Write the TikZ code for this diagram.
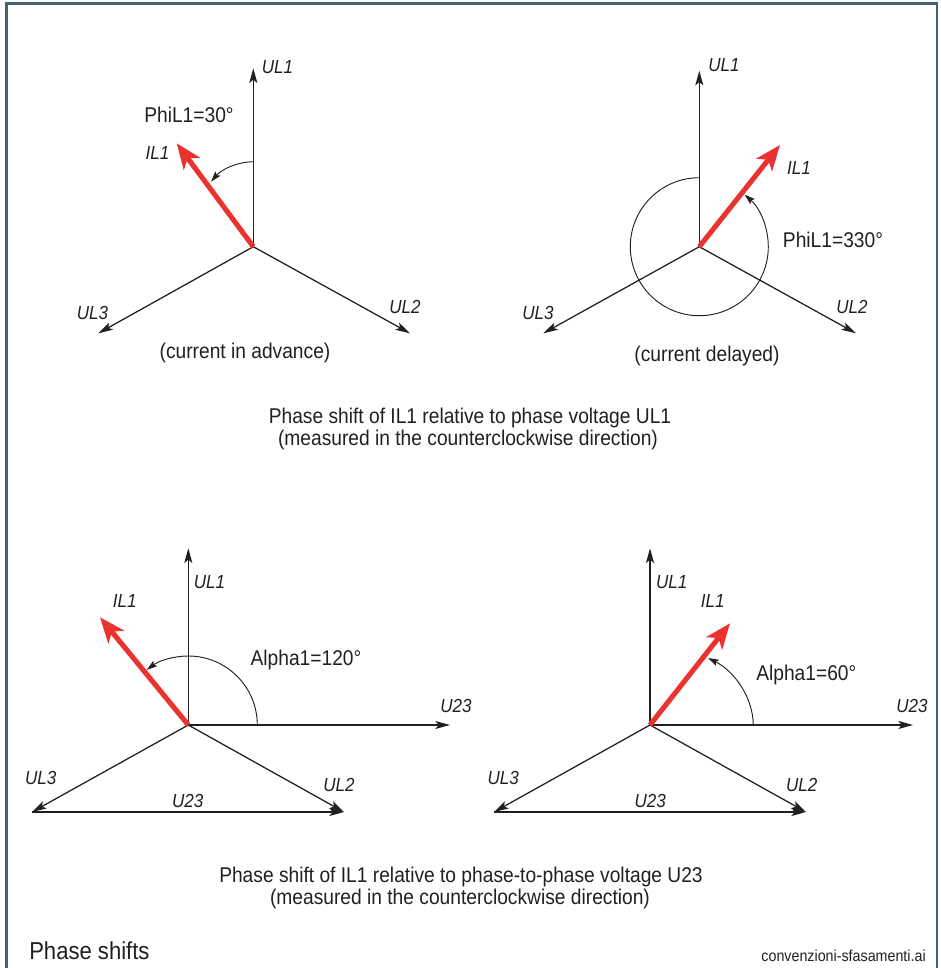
\documentclass[tikz,border=0pt]{standalone}
\usepackage{fontspec}
\setmainfont{Liberation Sans}[FakeStretch=0.9]
\usetikzlibrary{arrows.meta,calc}
\definecolor{framec}{RGB}{72,96,112}
\definecolor{vred}{RGB}{234,50,47}
\definecolor{ink}{RGB}{35,31,32}
\begin{document}
\begin{tikzpicture}[x=0.75pt,y=-0.75pt,
 vec/.style={draw=ink, line width=0.95pt, -{Stealth[length=11pt,width=6pt,inset=2.5pt]}},
 redvec/.style={draw=vred, line width=3.8pt, -{Stealth[length=19pt,width=15pt,inset=5pt]}},
 anglearc/.style={draw=ink, line width=0.7pt, -{Stealth[length=8pt,width=5pt,inset=1.5pt]}},
 lab/.style={font=\fontsize{14.2}{16}\selectfont\itshape, text=ink, inner sep=0pt},
 ann/.style={font=\fontsize{16}{19}\selectfont, text=ink, inner sep=0pt},
]
\useasboundingbox (0,0) rectangle (941,968);
% frame
\draw[framec, line width=1.9pt] (6.5,968) -- (6.5,3.5) -- (937,3.5) -- (937,968);

% ---------- top-left ----------
\coordinate (O1) at (253.3,246.7);
\coordinate (A1) at (253.3,68.3);
\coordinate (B1) at (410,333.3);
\coordinate (C1) at (98.3,333.3);
\coordinate (I1) at (176.7,143.3);
\coordinate (P1s) at (253.3,161.7);
\coordinate (P1e) at (211,181.7);
\draw[vec] (O1) -- (A1);
\draw[vec] (O1) -- (B1);
\draw[vec] (O1) -- (C1);
\draw[anglearc] (P1s) .. controls (236,162) and (221,170) .. (P1e);
\draw[redvec] (O1) -- (I1);
\node[lab] (lA1) at (277.5,66.7) {UL1};
\node[lab] (lB1) at (405,306.7) {UL2};
\node[lab] (lC1) at (92.5,312.5) {UL3};
\node[lab] (lI1) at (157.5,152.5) {IL1};
\node[ann] (phi1) at (189,115) {PhiL1=30°};
\node[ann] (cap1) at (245,353) {(current in advance)};

% ---------- top-right ----------
\coordinate (O2) at (699.3,246.7);
\coordinate (A2) at (699.3,70.7);
\coordinate (B2) at (856,333.3);
\coordinate (C2) at (543.3,333.3);
\coordinate (I2) at (780,145);
\draw[vec] (O2) -- (A2);
\draw[vec] (O2) -- (B2);
\draw[vec] (O2) -- (C2);
\draw[anglearc] ($(O2)+(-90:69)$) arc[start angle=-90, end angle=-409, radius=69];
\draw[redvec] (O2) -- (I2);
\node[lab] (lA2) at (724,65) {UL1};
\node[lab] (lB2) at (852,307) {UL2};
\node[lab] (lC2) at (538,313) {UL3};
\node[lab] (lI2) at (799,168) {IL1};
\node[ann] (phi2) at (833,240) {PhiL1=330°};
\node[ann] (cap2) at (707,356) {(current delayed)};

\node[ann, anchor=base] (t1) at (470,423.5) {Phase shift of IL1 relative to phase voltage UL1};
\node[ann, anchor=base] (t2) at (468,445.5) {(measured in the counterclockwise direction)};

% ---------- bottom-left ----------
\coordinate (O3) at (188.3,725);
\coordinate (A3) at (188.3,548.3);
\coordinate (D3) at (450,725);
\coordinate (B3) at (344,812);
\coordinate (C3) at (32,812);
\coordinate (I3) at (100,617.3);
\draw[vec] (O3) -- (A3);
\draw[vec] (O3) -- (D3);
\draw[vec] (O3) -- (B3);
\draw[vec] (O3) -- (C3);
\draw[vec] (C3) -- (B3);
\draw[anglearc] ($(O3)+(0:69)$) arc[start angle=0, end angle=-127, radius=69];
\draw[redvec] (O3) -- (I3);
\node[lab] (lA3) at (209.5,581.7) {UL1};
\node[lab] (lI3) at (124.7,600.5) {IL1};
\node[lab] (lD3) at (456,705.8) {U23};
\node[lab] (lC3) at (40.7,777.5) {UL3};
\node[lab] (lB3) at (339,785) {UL2};
\node[lab] (lE3) at (187.8,800.5) {U23};
\node[ann] (al3) at (306,660) {Alpha1=120°};

% ---------- bottom-right ----------
\coordinate (O4) at (650,725);
\coordinate (A4) at (650,548.3);
\coordinate (D4) at (913,725);
\coordinate (B4) at (806,812);
\coordinate (C4) at (494,812);
\coordinate (I4) at (730,623.3);
\coordinate (P4s) at (753.3,725);
\coordinate (P4e) at (708,658);
\draw[vec] (O4) -- (A4);
\draw[vec] (O4) -- (D4);
\draw[vec] (O4) -- (B4);
\draw[vec] (O4) -- (C4);
\draw[vec] (C4) -- (B4);
\draw[anglearc] (P4s) .. controls (753,697) and (734,671) .. (P4e);
\draw[redvec] (O4) -- (I4);
\node[lab] (lA4) at (671.7,581.7) {UL1};
\node[lab] (lI4) at (712.8,601.3) {IL1};
\node[lab] (lD4) at (912,705.8) {U23};
\node[lab] (lC4) at (503.3,777.5) {UL3};
\node[lab] (lB4) at (801.7,785) {UL2};
\node[lab] (lE4) at (650.3,800.5) {U23};
\node[ann] (al4) at (806.3,675) {Alpha1=60°};

\node[ann, anchor=base] (b1) at (461,882) {Phase shift of IL1 relative to phase-to-phase voltage U23};
\node[ann, anchor=base] (b2) at (460,904) {(measured in the counterclockwise direction)};

\node[font=\fontsize{18.4}{22}\selectfont, text=ink, anchor=base west, inner sep=0pt] (title) at (29,959.5) {Phase shifts};
\node[font=\fontsize{11.9}{14}\selectfont, text=ink, anchor=base east, inner sep=0pt] (file) at (926,961.5) {convenzioni-sfasamenti.ai};
\end{tikzpicture}
\end{document}
